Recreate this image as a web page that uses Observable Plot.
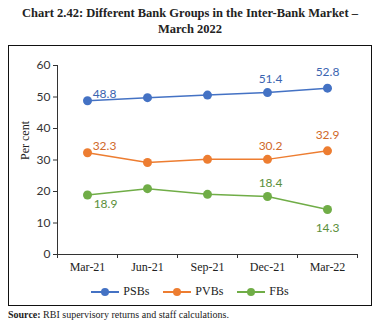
<!DOCTYPE html>
<html><head><meta charset="utf-8">
<script src="https://cdn.jsdelivr.net/npm/d3@7"></script>
<script src="https://cdn.jsdelivr.net/npm/@observablehq/plot@0.6"></script>
<style>
body{margin:0;background:#fff;width:380px;height:329px;overflow:hidden;font-family:"Liberation Serif",serif;}
#title{position:absolute;left:0;top:5px;width:380px;text-align:center;font-family:"Liberation Serif",serif;font-weight:bold;font-size:12.5px;line-height:16px;color:#222;}
#box{position:absolute;left:8px;top:45px;width:362px;height:259px;border:1px solid #111;}
#chart{position:absolute;left:0;top:0;}
#legend{position:absolute;left:0;top:238px;width:362px;display:flex;justify-content:center;gap:14px;font-family:"Liberation Serif",serif;font-size:12px;color:#222;}
#legend .it{display:flex;align-items:center;gap:4px;}
#source{position:absolute;left:8px;top:309px;font-family:"Liberation Serif",serif;font-size:10px;color:#222;}
</style></head>
<body>
<div id="title">Chart 2.42: Different Bank Groups in the Inter-Bank Market –<br>March 2022</div>
<div id="box"><div id="chart"></div><div id="legend"></div></div>
<div id="source"><b>Source:</b> RBI supervisory returns and staff calculations.</div>
<script>
const periods = ["Mar-21","Jun-21","Sep-21","Dec-21","Mar-22"];
const seriesNames = ["PSBs","PVBs","FBs"];
const psbs = [48.8, 49.8, 50.6, 51.4, 52.8];
const pvbs = [32.3, 29.2, 30.2, 30.2, 32.9];
const fbs  = [18.9, 20.9, 19.1, 18.4, 14.3];
const colors = ["#4472C4","#ED7D31","#70AD47"];
const labelColors = ["#3A64B0","#D0692A","#5A8F3A"];
const yTicks = [0,10,20,30,40,50,60];
const labelled = [0,3,4];

const values = [psbs, pvbs, fbs];
const data = [];
seriesNames.forEach((s,si)=>values[si].forEach((v,i)=>data.push({series:s, si, i, x:i+0.5, period:periods[i], value:v})));
const labels = data.filter(d=>labelled.includes(d.i));
const last = periods.length-1;

const lab = (filter, dx, dy) => Plot.text(labels.filter(filter), {x:"x", y:"value", text:d=>d.value.toFixed(1), dx, dy, fill:d=>labelColors[d.si], fontFamily:"Lato, sans-serif", fontSize:12});

const plot = Plot.plot({
  width: 362, height: 232,
  marginLeft: 48, marginRight: 14, marginTop: 19, marginBottom: 24,
  style:{fontFamily:"Lato, sans-serif", fontSize:"12px", color:"#333", background:"transparent"},
  x:{domain:[0, periods.length], axis:null},
  y:{domain:[0,60], axis:null},
  color:{domain:seriesNames, range:colors},
  marks:[
    Plot.axisY({ticks:yTicks, tickSize:4, tickPadding:3, label:null, fontFamily:"Lato, sans-serif", fontSize:12, stroke:"#333"}),
    Plot.text(["Per cent"], {frameAnchor:"left", dx:-32, rotate:-90, fontFamily:"Liberation Serif", fontSize:12, fill:"#222"}),
    Plot.axisX({ticks:d3.range(periods.length+1), tickSize:4, tickFormat:()=>"", stroke:"#333", label:null}),
    Plot.axisX({ticks:periods.map((p,i)=>i+0.5), tickSize:0, tickPadding:8, tickFormat:(t)=>periods[Math.round(t-0.5)], fontFamily:"Liberation Serif", fontSize:12, fill:"#222", label:null}),
    Plot.ruleX([0], {stroke:"#333"}),
    Plot.ruleY([0], {stroke:"#333"}),
    Plot.line(data, {x:"x", y:"value", z:"series", stroke:"series", strokeWidth:1.5}),
    Plot.dot(data, {x:"x", y:"value", fill:"series", r:4.5}),
    lab(d=>d.i===0 && d.si<2, 17, -7),
    lab(d=>d.i===0 && d.si===2, 18, 9),
    lab(d=>d.i>0 && d.i<last, 3, -13),
    lab(d=>d.i===last && d.si<2, 0, -16),
    lab(d=>d.i===last && d.si===2, 0, 19)
  ]
});
document.getElementById("chart").appendChild(plot);

const leg = document.getElementById("legend");
seriesNames.forEach((s,si)=>{
  const it = document.createElement("div"); it.className="it";
  it.innerHTML = `<svg width="28" height="10"><line x1="0" x2="28" y1="5" y2="5" stroke="${colors[si]}" stroke-width="2"/><circle cx="14" cy="5" r="4" fill="${colors[si]}"/></svg><span>${s}</span>`;
  leg.appendChild(it);
});
</script>
</body></html>
